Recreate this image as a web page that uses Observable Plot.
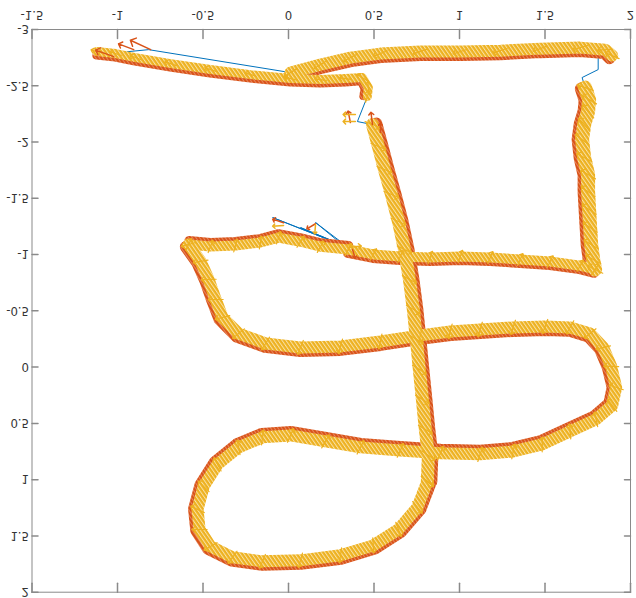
<!DOCTYPE html>
<html><head><meta charset="utf-8">
<script src="https://cdn.jsdelivr.net/npm/d3@7"></script>
<script src="https://cdn.jsdelivr.net/npm/@observablehq/plot@0.6"></script>
<style>
html,body{margin:0;padding:0;background:#fff;}
#chart{width:636px;height:598px;overflow:hidden;}
#chart svg{display:block;transform:scaleY(-1);}
</style></head><body>
<svg width="0" height="0" style="position:absolute">
  <defs>
    <pattern id="hatchY" patternUnits="userSpaceOnUse" width="3.2" height="3.2" patternTransform="rotate(35)">
      <rect width="3.2" height="3.2" fill="#EDB120"></rect>
      <rect width="1" height="3.2" fill="#f9e2a6"></rect>
    </pattern>
    <pattern id="hatchO" patternUnits="userSpaceOnUse" width="3" height="3" patternTransform="rotate(35)">
      <rect width="3" height="3" fill="#D95319"></rect>
      <rect width="0.7" height="3" fill="#ec9a78"></rect>
    </pattern>
  </defs>
</svg>
<div id="chart"></div>
<script>
// ---- axis ticks ----
const xTicks = [-1.5, -1, -0.5, 0, 0.5, 1, 1.5, 2];
const yTicks = [-3, -2.5, -2, -1.5, -1, -0.5, 0, 0.5, 1, 1.5, 2];

// ---- trajectory tracks (x, y) ----
const trackA = [[0.461,-2.404],[0.467,-2.484],[0.432,-2.573],[0.333,-2.564],[0.187,-2.555],[0.012,-2.564],[-0.222,-2.599],[-0.456,-2.644],[-0.689,-2.697],[-0.894,-2.750],[-1.011,-2.786],[-1.121,-2.804]];
const jumpLeft = [[-1.011,-2.760],[-0.993,-2.795],[-0.818,-2.821]];
const trackB = [[0.012,-2.617],[0.187,-2.688],[0.362,-2.750],[0.537,-2.786],[0.771,-2.804],[1.005,-2.804],[1.238,-2.812],[1.472,-2.830],[1.706,-2.839],[1.852,-2.821],[1.893,-2.768]];
const jumpTopRight = [[1.811,-2.750],[1.811,-2.644],[1.717,-2.573]];
const trackC = [[1.735,-2.484],[1.758,-2.377],[1.752,-2.271],[1.729,-2.155],[1.717,-2.022],[1.729,-1.862],[1.752,-1.711],[1.752,-1.560],[1.758,-1.400],[1.764,-1.241],[1.770,-1.090],[1.782,-0.956],[1.793,-0.868]];
const trackD1 = [[1.793,-0.868],[1.706,-0.901],[1.530,-0.938],[1.355,-0.956],[1.180,-0.974],[1.005,-0.983],[0.829,-0.974],[0.654,-0.983],[0.496,-1.001],[0.350,-1.045]];
const fanJumps = [[0.158,-1.285],[0.350,-1.063],[0.070,-1.240],[0.350,-1.063],[-0.093,-1.329],[0.350,-1.063]];
const trackD2 = [[0.350,-1.045],[0.187,-1.070],[0.070,-1.114],[-0.058,-1.150],[-0.164,-1.107],[-0.310,-1.080],[-0.456,-1.072],[-0.584,-1.090]];
const trackE = [[-0.584,-1.090],[-0.514,-0.939],[-0.467,-0.779],[-0.426,-0.601],[-0.386,-0.441],[-0.292,-0.298],[-0.134,-0.210],[0.070,-0.175],[0.304,-0.184],[0.537,-0.228],[0.771,-0.282],[0.946,-0.317],[1.121,-0.335],[1.314,-0.353],[1.501,-0.361],[1.647,-0.353],[1.764,-0.299],[1.840,-0.175],[1.887,-0.006],[1.916,0.180],[1.893,0.340],[1.799,0.464],[1.647,0.571],[1.484,0.686],[1.314,0.749],[1.121,0.775],[0.888,0.766],[0.654,0.740],[0.421,0.713],[0.216,0.660],[0.012,0.607],[-0.152,0.624],[-0.292,0.713],[-0.415,0.864],[-0.496,1.060],[-0.532,1.264],[-0.520,1.442],[-0.456,1.593],[-0.327,1.690],[-0.152,1.726],[0.070,1.717],[0.304,1.672],[0.496,1.584],[0.643,1.442],[0.754,1.246],[0.812,1.015]];
const trackV = [[0.812,1.015],[0.818,0.784],[0.800,0.553],[0.783,0.287],[0.765,0.020],[0.748,-0.246],[0.730,-0.513],[0.707,-0.779],[0.678,-1.045],[0.643,-1.294],[0.602,-1.534],[0.561,-1.756],[0.526,-1.960],[0.491,-2.155]];
const jumpTop = [[0.403,-2.182]];

// per-track: orange side (+1 right of travel, -1 left), hatch angle from travel (deg), band width
const trackNames = ["A","B","C","D1","D2","E","V"];
const trackSide  = [-1, 1, 1, -1, 1, 1, 1];
const trackHatch = [10, 163, 127, 110, 110, 110, 127];
const trackWidth = [9, 12, 14, 10, 10, 12, 13];

// isolated quiver arrows [x, y, u, v]
const orangeArrows = [[-1.022,-2.759,-0.146,-0.080],[-0.905,-2.821,-0.123,-0.071],[-0.806,-2.821,-0.164,-0.115],
  [0.362,-2.173,-0.018,-0.142],[0.491,-2.155,-0.012,-0.151],[0.537,-2.084,0,-0.115],
  [-0.029,-1.283,-0.088,-0.044],[0.158,-1.274,-0.070,0.062],[0.374,-1.045,0.023,0.107]];
const yellowArrows = [[-0.029,-1.258,-0.088,0.009],[0.158,-1.267,-0.006,0.115],[0.350,-1.063,0.105,-0.018],
  [0.391,-2.244,-0.099,0],[0.391,-2.182,-0.099,0]];

// ---- colours ----
const BLUE = "#0072BD", ORANGE = "#D95319", YELLOW = "#EDB120";

// ---- layout ----
const W = 636, H = 598, mL = 31.5, mR = 6, mT = 5.3, mB = 30;
const xDom = [-1.5, 2], yDom = [-3, 2];
const kx = (W - mL - mR) / (xDom[1] - xDom[0]);
const ky = (H - mT - mB) / (yDom[1] - yDom[0]);

const tracks = [trackA, trackB, trackC, trackD1, trackD2, trackE, trackV];

// image frame (as shown, flipped): x right, data-y down
function annotate(track, side, hatch) {
  return track.map((p, i) => {
    const a = track[Math.max(0, i - 1)], b = track[Math.min(track.length - 1, i + 1)];
    let tx = (b[0] - a[0]) * kx, ty = (b[1] - a[1]) * ky;
    const n = Math.hypot(tx, ty) || 1; tx /= n; ty /= n;
    const nx = -ty, ny = tx;
    const h = hatch * Math.PI / 180;
    const hx = tx * Math.cos(h) - ty * Math.sin(h), hy = tx * Math.sin(h) + ty * Math.cos(h);
    const off = 4;
    return {x: p[0], y: p[1], ox: p[0] + side * nx * off / kx, oy: p[1] + side * ny * off / ky,
            rot: Math.atan2(hx, hy) * 180 / Math.PI};
  });
}
const ann = tracks.map((t, i) => annotate(t, trackSide[i], trackHatch[i]));

const quiver = arr => arr.map(([x, y, u, v]) => ({x, y,
  rot: Math.atan2(u * kx, v * ky) * 180 / Math.PI, len: Math.hypot(u * kx, v * ky)}));

const bluePath = [...trackA, ...jumpLeft, ...trackB, ...jumpTopRight, ...trackC, ...trackD1, ...fanJumps,
  ...trackD2, ...trackE, ...trackV, ...jumpTop, trackA[0]].map(([x, y]) => ({x, y}));

const lineShape = {draw(ctx, l) { ctx.moveTo(0, 0); ctx.lineTo(0, -l); }};
const AX = "#8a8a8a";

const marks = [];
marks.push(Plot.line(bluePath, {x: "x", y: "y", stroke: BLUE, strokeWidth: 1}));
ann.forEach((a, i) => marks.push(Plot.line(a, {x: "ox", y: "oy", stroke: "url(#hatchO)", strokeWidth: trackWidth[i] - 1})));
ann.forEach((a, i) => marks.push(Plot.vector(a, {x: "ox", y: "oy", rotate: "rot", length: Math.max(3, trackWidth[i] - 7), anchor: "middle", stroke: ORANGE, strokeWidth: 1.2})));
ann.forEach((a, i) => marks.push(Plot.line(a, {x: "x", y: "y", stroke: "url(#hatchY)", strokeWidth: trackWidth[i]})));
ann.forEach((a, i) => marks.push(Plot.vector(a, {x: "x", y: "y", rotate: "rot", length: trackWidth[i] + 3, anchor: "middle", stroke: YELLOW, strokeWidth: 1.2})));
marks.push(Plot.vector(quiver(orangeArrows), {x: "x", y: "y", rotate: "rot", length: "len", anchor: "start", stroke: ORANGE, strokeWidth: 1.5}));
marks.push(Plot.vector(quiver(yellowArrows), {x: "x", y: "y", rotate: "rot", length: "len", anchor: "start", stroke: YELLOW, strokeWidth: 1.5}));

// frame and inward ticks
marks.push(Plot.frame({stroke: AX}));
marks.push(Plot.vector(xTicks, {x: d => d, y: yDom[0], rotate: 0, length: 9, anchor: "start", stroke: AX, shape: lineShape}));
marks.push(Plot.vector(xTicks, {x: d => d, y: yDom[1], rotate: 180, length: 9, anchor: "start", stroke: AX, shape: lineShape}));
marks.push(Plot.vector(yTicks, {y: d => d, x: xDom[0], rotate: 90, length: 6, anchor: "start", stroke: AX, shape: lineShape}));
marks.push(Plot.vector(yTicks, {y: d => d, x: xDom[1], rotate: 270, length: 6, anchor: "start", stroke: AX, shape: lineShape}));
marks.push(Plot.axisX(xTicks, {anchor: "bottom", tickSize: 0, tickPadding: 9, tickFormat: d => String(d), label: null, fill: "#333"}));
marks.push(Plot.axisY(yTicks, {anchor: "left", tickSize: 0, tickPadding: 3, tickFormat: d => String(d), label: null, fill: "#333"}));

const chart = Plot.plot({
  width: W, height: H,
  marginLeft: mL, marginRight: mR, marginTop: mT, marginBottom: mB,
  x: {domain: xDom, label: null, axis: null},
  y: {domain: yDom, label: null, axis: null},
  style: {fontFamily: "'Liberation Sans Narrow', 'DejaVu Sans Condensed', 'Liberation Sans', sans-serif", fontSize: "13px", background: "#fff"},
  marks
});
document.getElementById("chart").appendChild(chart);
</script>
</body></html>
